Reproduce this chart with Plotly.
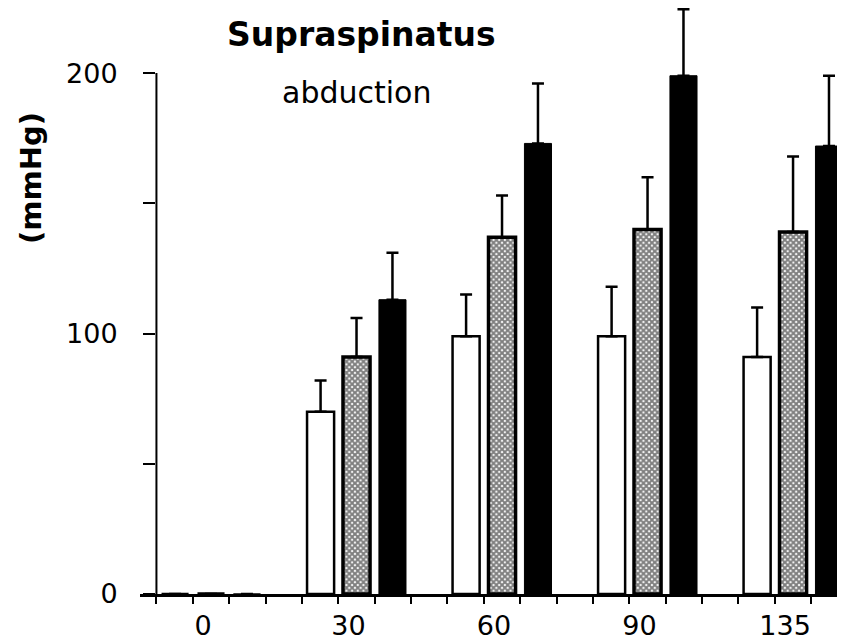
import plotly.graph_objs as go

# abduction angle groups (deg)
angles = ["0", "30", "60", "90", "135"]

# three series per angle (mmHg), mean and upper SD
white_vals = [0, 70, 99, 99, 91]
white_sd = [0, 12, 16, 19, 19]
grey_vals = [0, 91, 137, 140, 139]
grey_sd = [0, 15, 16, 20, 29]
black_vals = [0, 113, 173, 199, 172]
black_sd = [0, 18, 23, 25.5, 27]

ytick_vals = [0, 50, 100, 150, 200]
ytick_text = ["0", "", "100", "", "200"]

pos = list(range(len(angles)))
bw = 0.186

fig = go.Figure()

def err(sd):
    return dict(type="data", symmetric=False, array=sd, arrayminus=[0] * len(sd),
                color="black", thickness=2.5, width=6)

fig.add_trace(go.Bar(x=pos, y=white_vals, width=bw, offset=-0.34,
                     marker=dict(color="white", line=dict(color="black", width=2.5)),
                     error_y=err(white_sd)))
fig.add_trace(go.Bar(x=pos, y=grey_vals, width=bw, offset=-0.093,
                     marker=dict(color="white", line=dict(color="black", width=3.5),
                                 pattern=dict(shape="x", fgcolor="black", size=4,
                                              solidity=0.75, fillmode="overlay")),
                     error_y=err(grey_sd)))
fig.add_trace(go.Bar(x=pos, y=black_vals, width=bw, offset=0.154,
                     marker=dict(color="black", line=dict(color="black", width=1)),
                     error_y=err(black_sd)))

# y axis line only up to 200
fig.add_shape(type="line", x0=-0.375, x1=-0.375, y0=0, y1=200,
              xref="x", yref="y", line=dict(color="black", width=2))

fig.add_annotation(text="<b>Supraspinatus</b>", x=0.3135, y=0.9556, xref="paper", yref="paper",
                   xanchor="center", yanchor="middle", showarrow=False,
                   font=dict(family="DejaVu Sans", size=33, color="black"))
fig.add_annotation(text="abduction", x=0.3078, y=0.856, xref="paper", yref="paper",
                   xanchor="center", yanchor="middle", showarrow=False,
                   font=dict(family="DejaVu Sans", size=30, color="black"))
fig.add_annotation(text="<b>(mmHg)</b>", x=-0.1546, y=0.71, xref="paper", yref="paper",
                   xanchor="center", yanchor="middle", showarrow=False, textangle=-90,
                   font=dict(family="DejaVu Sans", size=29, color="black"))

# page body adds 8px offset, margins account for it
fig.update_layout(
    width=845, height=641,
    margin=dict(l=132, r=8, t=0, b=55),
    paper_bgcolor="white", plot_bgcolor="white",
    showlegend=False, barmode="overlay",
    font=dict(family="DejaVu Sans", size=27, color="black"),
)
fig.update_xaxes(range=[-0.488, 4.357], tickvals=pos, ticktext=angles,
                 showline=True, linewidth=3, linecolor="black",
                 showgrid=False, zeroline=False, ticks="",
                 ticklabelshift=-8, ticklabelstandoff=6,
                 minor=dict(ticks="outside", tick0=0.125, dtick=0.25, ticklen=7,
                            tickwidth=2, tickcolor="black", showgrid=False))
fig.update_yaxes(range=[0, 225], tickvals=ytick_vals, ticktext=ytick_text,
                 anchor="free", position=0.0213, showline=False,
                 showgrid=False, zeroline=False,
                 ticks="outside", ticklen=12, tickwidth=2, tickcolor="black",
                 ticklabelstandoff=20)

fig.write_html("out.html")
